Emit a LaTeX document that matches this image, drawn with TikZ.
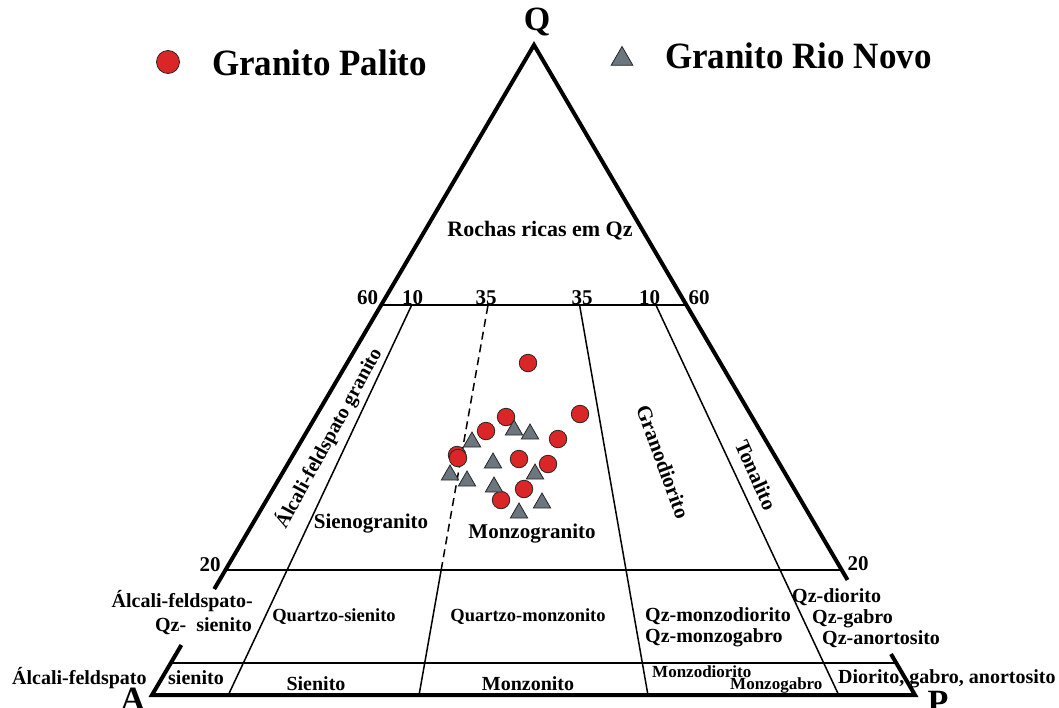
\documentclass[tikz,border=0pt]{standalone}
\usepackage{fontspec}
\setmainfont{Liberation Serif}
\usetikzlibrary{calc,shapes.geometric}
\definecolor{ptred}{RGB}{218,38,38}
\definecolor{ptgrey}{RGB}{108,118,126}
\tikzset{
  edge/.style={line width=4pt, line join=miter},
  hline/.style={line width=1.8pt},
  radial/.style={line width=1.5pt},
  dashline/.style={line width=1.5pt, dash pattern=on 8pt off 5pt},
  lbl/.style={font=\fontsize{20}{22}\selectfont\bfseries, inner sep=0pt},
  midlbl/.style={font=\fontsize{18.5}{20}\selectfont\bfseries, inner sep=0pt},
  fieldlbl/.style={font=\fontsize{21}{23}\selectfont\bfseries, inner sep=0pt},
  smlbl/.style={font=\fontsize{17}{19}\selectfont\bfseries, inner sep=0pt},
  numlbl/.style={font=\fontsize{21}{23}\selectfont\bfseries, inner sep=0pt},
  biglbl/.style={font=\fontsize{34}{36}\selectfont\bfseries, inner sep=0pt},
  leglbl/.style={font=\fontsize{35}{37}\selectfont\bfseries, inner sep=0pt},
  dot/.style={circle, fill=ptred, draw=black!85, line width=0.8pt, minimum size=17.5pt, inner sep=0pt},
  tri/.style={regular polygon, regular polygon sides=3, fill=ptgrey, draw=black!85, line width=0.8pt, minimum size=20pt, inner sep=0pt},
}
\begin{document}
\begin{tikzpicture}[x=1pt,y=-1pt]
\useasboundingbox (0,0) rectangle (1059,707);
% vertices
\coordinate (A) at (152,695);
\coordinate (P) at (915,695);
\coordinate (Q) at (534,45);
% gaps in the outer edges
\coordinate (La) at ($(A)!0.0769!(Q)$);
\coordinate (Lb) at ($(A)!0.163!(Q)$);
\coordinate (Ra) at ($(P)!0.063!(Q)$);
\coordinate (Rb) at ($(P)!0.177!(Q)$);
% horizontal lines
\coordinate (L60) at ($(A)!0.6!(Q)$);
\coordinate (R60) at ($(P)!0.6!(Q)$);
\coordinate (L20) at ($(A)!0.1923!(Q)$);
\coordinate (R20) at ($(P)!0.1923!(Q)$);
\coordinate (L5) at ($(A)!0.0492!(Q)$);
\coordinate (R5) at ($(P)!0.0492!(Q)$);
% radial lines
\coordinate (b10) at ($(A)!0.10!(P)$);
\coordinate (b35) at ($(A)!0.35!(P)$);
\coordinate (b65) at ($(A)!0.65!(P)$);
\coordinate (b90) at ($(A)!0.90!(P)$);
\coordinate (t10) at ($(b10)!0.6!(Q)$);
\coordinate (t35) at ($(b35)!0.6!(Q)$);
\coordinate (t65) at ($(b65)!0.6!(Q)$);
\coordinate (t90) at ($(b90)!0.6!(Q)$);
\coordinate (m35) at ($(b35)!0.1923!(Q)$);

\draw[hline] (L60) -- (R60);
\draw[hline] (L20) -- (R20);
\draw[hline] (L5) -- (R5);
\draw[radial] (b10) -- (t10);
\draw[radial] (b35) -- (m35);
\draw[dashline] (m35) -- (t35);
\draw[radial] (b65) -- (t65);
\draw[radial] (b90) -- (t90);

\draw[edge] (La) -- (A) -- (P) -- (Ra);
\draw[edge] (Rb) -- (Q) -- (Lb);

% vertex labels
\node[biglbl] (lQ) at (537,22) {Q};
\node[biglbl] (lA) at (133,699) {A};
\node[biglbl] (lP) at (938,702) {P};

% legend
\node[dot, minimum size=23pt] (legc) at (168,62) {};
\node[leglbl, anchor=base west] (legct) at (212,75) {\scalebox{1}[1.06]{Granito Palito}};
\node[tri, minimum size=25pt] (legt) at (622,59) {};
\node[leglbl, anchor=base west] (legtt) at (665,68) {\scalebox{1}[1.06]{Granito Rio Novo}};

% numbers
\node[numlbl] (n60l) at (367.5,298) {60};
\node[numlbl] (n10l) at (412.5,298) {10};
\node[numlbl] (n35l) at (486,298) {35};
\node[numlbl] (n35r) at (582,298) {35};
\node[numlbl] (n10r) at (649.5,298) {10};
\node[numlbl] (n60r) at (699,298) {60};
\node[numlbl] (n20l) at (210,565) {20};
\node[numlbl] (n20r) at (858,564) {20};

% field labels
\node[font=\fontsize{22}{24}\selectfont\bfseries, inner sep=0pt, anchor=base] (rq) at (540,236) {Rochas ricas em Qz};
\node[lbl, anchor=base, rotate=61.5] (afg) at (334,441) {Álcali-feldspato granito};
\node[fieldlbl] (sg) at (371,524) {Sienogranito};
\node[fieldlbl] (mg) at (532,534) {Monzogranito};
\node[fieldlbl, rotate=-70] (gd) at (663,462) {Granodiorito};
\node[fieldlbl, rotate=-66] (tn) at (756,475) {Tonalito};

\node[lbl, anchor=base east] (afq1) at (253,607) {Álcali-feldspato-};
\node[lbl, anchor=base east] (afq2) at (252,631) {Qz-\ \ sienito};
\node[midlbl] (qs) at (334,617) {Quartzo-sienito};
\node[midlbl] (qm) at (528,617) {Quartzo-monzonito};
\node[lbl, anchor=base west] (qmd) at (645,621) {Qz-monzodiorito};
\node[lbl, anchor=base west] (qmg) at (645,642) {Qz-monzogabro};
\node[lbl, anchor=base west] (qd) at (792,602) {Qz-diorito};
\node[lbl, anchor=base west] (qg) at (812,623) {Qz-gabro};
\node[lbl, anchor=base west] (qa) at (822,644) {Qz-anortosito};

\node[lbl, anchor=base west] (afs1) at (12,684) {Álcali-feldspato};
\node[lbl, anchor=base west] (afs2) at (168,684) {sienito};
\node[lbl, anchor=base] (sn) at (316,690) {Sienito};
\node[lbl, anchor=base] (mz) at (528,690) {Monzonito};
\node[smlbl, anchor=base west] (mzd) at (652,677) {Monzodiorito};
\node[smlbl, anchor=base west] (mzg) at (730,689) {Monzogabro};
\node[lbl, anchor=base west] (dga) at (838,683) {Diorito, gabro, anortosito};

% data: Granito Palito
\node[dot] (c1) at (528,363) {};
\node[dot] (c2) at (506,417) {};
\node[dot] (c3) at (580,414) {};
\node[dot] (c4) at (486,431) {};
\node[dot] (c5) at (558,439) {};
\node[dot] (c6a) at (457,455) {};
\node[dot] (c6b) at (458,458) {};
\node[dot] (c7) at (519,459) {};
\node[dot] (c8) at (548,464) {};
\node[dot] (c9) at (524,489) {};
\node[dot] (c10) at (501,500) {};
% data: Granito Rio Novo
\node[tri] (tr1) at (472,442) {};
\node[tri] (tr2) at (514,430) {};
\node[tri] (tr3) at (530,434) {};
\node[tri] (tr4) at (450,475) {};
\node[tri] (tr5) at (493,463) {};
\node[tri] (tr6) at (467,481) {};
\node[tri] (tr7) at (535,474) {};
\node[tri] (tr8) at (494,487) {};
\node[tri] (tr9) at (542,503) {};
\node[tri] (tr10) at (519,513) {};
\end{tikzpicture}
\end{document}
